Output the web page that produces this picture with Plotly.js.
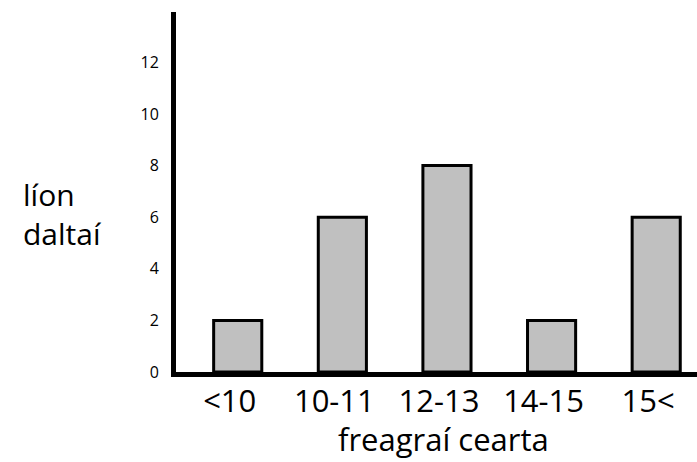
<!DOCTYPE html>
<html>
<head>
<meta charset="utf-8">
<script src="https://cdn.plot.ly/plotly-3.0.1.min.js"></script>
<style>html,body{margin:0;padding:0;background:#fff;}#chart{width:697px;height:462px;}</style>
</head>
<body>
<div id="chart"></div>
<script>
const categories = ["<10", "10-11", "12-13", "14-15", "15<"];
const counts = [2, 6, 8, 2, 6];
const yTicks = [0, 2, 4, 6, 8, 10, 12];
const xTitle = "freagraí cearta";
const yTitle = "líon<br>daltaí";

const FONT = "'Open Sans', Lato, sans-serif";

const trace = {
  type: "bar",
  x: categories,
  y: counts,
  width: 0.46,
  marker: { color: "#c0c0c0", line: { color: "#000", width: 3 } },
  hoverinfo: "none"
};

const layout = {
  width: 697,
  height: 462,
  margin: { l: 176, r: 0, t: 12, b: 90 },
  paper_bgcolor: "#fff",
  plot_bgcolor: "#fff",
  showlegend: false,
  font: { family: FONT, color: "#000" },
  xaxis: {
    type: "category",
    range: [-0.59, 4.39],
    showline: true,
    linewidth: 5,
    linecolor: "#000",
    showgrid: false,
    zeroline: false,
    ticks: "",
    ticklabelshift: -8,
    ticklabelstandoff: -2,
    tickfont: { size: 31, family: FONT, color: "#000" },
    fixedrange: true
  },
  yaxis: {
    range: [0, 13.95],
    tickvals: yTicks,
    ticktext: yTicks.map(String),
    showline: true,
    linewidth: 5,
    linecolor: "#000",
    showgrid: false,
    zeroline: false,
    ticks: "",
    ticklabelstandoff: 9,
    tickfont: { size: 16, family: FONT, color: "#000" },
    fixedrange: true
  },
  annotations: [{
    text: yTitle,
    xref: "paper", yref: "paper",
    x: -0.297, y: 0.44,
    xanchor: "left", yanchor: "middle",
    align: "left",
    showarrow: false,
    font: { size: 30, family: FONT, color: "#000" }
  }, {
    text: xTitle,
    xref: "paper", yref: "paper",
    x: 0.5125, y: -0.186,
    xanchor: "center", yanchor: "middle",
    showarrow: false,
    font: { size: 31, family: FONT, color: "#000" }
  }]
};

Plotly.newPlot("chart", [trace], layout, { displayModeBar: false, staticPlot: true });
</script>
</body>
</html>
